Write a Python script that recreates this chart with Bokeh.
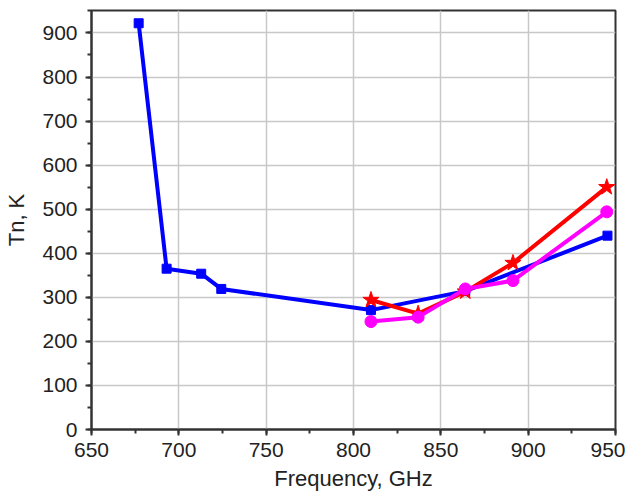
from bokeh.plotting import figure
from bokeh.models import SingleIntervalTicker, Range1d
from bokeh.embed import file_html
from bokeh.resources import INLINE

blue_x = [677, 693, 712.8, 724.3, 810, 864, 945.4]
blue_y = [922, 365, 353.6, 319, 271, 314, 440]
red_x = [810, 837, 864, 891.3, 945]
red_y = [294, 263, 313, 378, 550]
mag_x = [810, 837, 864, 891.3, 945]
mag_y = [245, 255, 319, 338, 494]

FONT = "Liberation Sans"

p = figure(width=625, height=493, output_backend="svg", toolbar_location=None,
           x_range=Range1d(650, 950), y_range=Range1d(0, 951),
           min_border_left=91, min_border_right=10, min_border_top=10, min_border_bottom=63)

p.outline_line_color = "#333333"
p.outline_line_width = 2
p.background_fill_color = "white"
p.border_fill_color = "white"

p.xaxis.ticker = SingleIntervalTicker(interval=50, num_minor_ticks=2)
p.yaxis.ticker = SingleIntervalTicker(interval=100, num_minor_ticks=2)

for ax in (p.xaxis[0], p.yaxis[0]):
    ax.axis_line_color = "#333333"
    ax.axis_line_width = 2
    ax.major_tick_line_color = "#333333"
    ax.major_tick_line_width = 2
    ax.minor_tick_line_color = "#333333"
    ax.minor_tick_line_width = 2
    ax.major_tick_in = 0
    ax.major_tick_out = 6
    ax.minor_tick_in = 0
    ax.minor_tick_out = 4
    ax.major_label_text_font = FONT
    ax.major_label_text_font_size = "21px"
    ax.major_label_text_color = "#222222"
    ax.axis_label_text_font = FONT
    ax.axis_label_text_font_size = "22px"
    ax.axis_label_text_font_style = "normal"
    ax.axis_label_text_color = "#222222"

p.xaxis.axis_label = "Frequency, GHz"
p.yaxis.axis_label = "Tn, K"
p.xaxis.major_label_standoff = 7
p.yaxis.major_label_standoff = 8
p.xaxis.axis_label_standoff = 6
p.yaxis.axis_label_standoff = 10

p.xgrid.grid_line_color = "#c8c8c8"
p.ygrid.grid_line_color = "#c8c8c8"
p.xgrid.grid_line_width = 1.5
p.ygrid.grid_line_width = 1.5

p.line(blue_x, blue_y, line_color="#0000ff", line_width=4)
p.scatter(blue_x, blue_y, marker="square", size=9, fill_color="#0000ff", line_color="#0000ff")

p.line(red_x, red_y, line_color="#ff0000", line_width=4)
p.scatter(red_x, red_y, marker="star", size=17, fill_color="#ff0000", line_color="#ff0000")

p.line(mag_x, mag_y, line_color="#ff00ff", line_width=4)
p.scatter(mag_x, mag_y, marker="circle", size=12, fill_color="#ff00ff", line_color="#ff00ff")

open("out.html", "w").write(file_html(p, INLINE))
